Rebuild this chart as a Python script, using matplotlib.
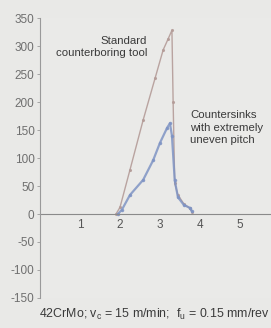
import matplotlib.pyplot as plt

# --- Data ---
std_x = [1.9, 2.0, 2.25, 2.58, 2.88, 3.08, 3.2, 3.3, 3.33, 3.37, 3.45, 3.6, 3.75, 3.8]
std_y = [0, 12, 79, 168, 243, 293, 312, 328, 200, 55, 34, 18, 10, 4]

cs_x = [1.95, 2.05, 2.25, 2.58, 2.83, 3.0, 3.18, 3.25, 3.3, 3.37, 3.45, 3.6, 3.75, 3.8]
cs_y = [0, 8, 34, 61, 96, 127, 154, 162, 140, 60, 30, 16, 11, 5]

yticks = [-150, -100, -50, 0, 50, 100, 150, 200, 250, 300, 350]
xticks = [1, 2, 3, 4, 5]

plt.rcParams['font.family'] = ['Liberation Sans', 'DejaVu Sans']

fig = plt.figure(figsize=(2.71, 3.28), dpi=100)
fig.patch.set_facecolor('#e9e9e7')
ax = fig.add_axes([0.148, 0.0915, 0.852, 0.8535])
ax.set_facecolor('#eaeae8')

# curves
ax.plot(std_x, std_y, color='#b49c98', lw=1.0, marker='.', ms=2.5, alpha=0.9)
ax.plot(cs_x, cs_y, color='#7f94c4', lw=1.6, marker='.', ms=3, alpha=0.85)

# zero line and axis
ax.axhline(0, color='#8a8a8a', lw=0.8)
for s in ['top', 'right', 'bottom']:
    ax.spines[s].set_visible(False)
ax.spines['left'].set_color('#9a9a9a')
ax.spines['left'].set_linewidth(0.8)

ax.set_xlim(0, 5.78)
ax.set_ylim(-150, 350)
ax.set_yticks(yticks)
ax.set_yticklabels([str(v) for v in yticks])
ax.tick_params(axis='y', length=2, width=0.6, color='#9a9a9a',
               labelsize=8.5, labelcolor='#6f6f6f', pad=2)

# x tick labels sit just under the zero line
ax.set_xticks([])
for v in xticks:
    ax.text(v, -9, str(v), ha='center', va='top', fontsize=8.5, color='#555555')

ax.text(2.68, 318, "Standard\ncounterboring tool", ha='right', va='top',
        fontsize=8.2, color='#3a3a3a', linespacing=1.2)
ax.text(3.75, 186, "Countersinks\nwith extremely\nuneven pitch", ha='left', va='top',
        fontsize=8.2, color='#3a3a3a', linespacing=1.35)

fig.text(0.145, 0.03, r"42CrMo; v$_\mathregular{c}$ = 15 m/min;  f$_\mathregular{u}$ = 0.15 mm/rev",
         ha='left', va='baseline', fontsize=8.9, color='#3a3a3a')

fig.savefig('out.png', dpi=100, facecolor=fig.get_facecolor())
